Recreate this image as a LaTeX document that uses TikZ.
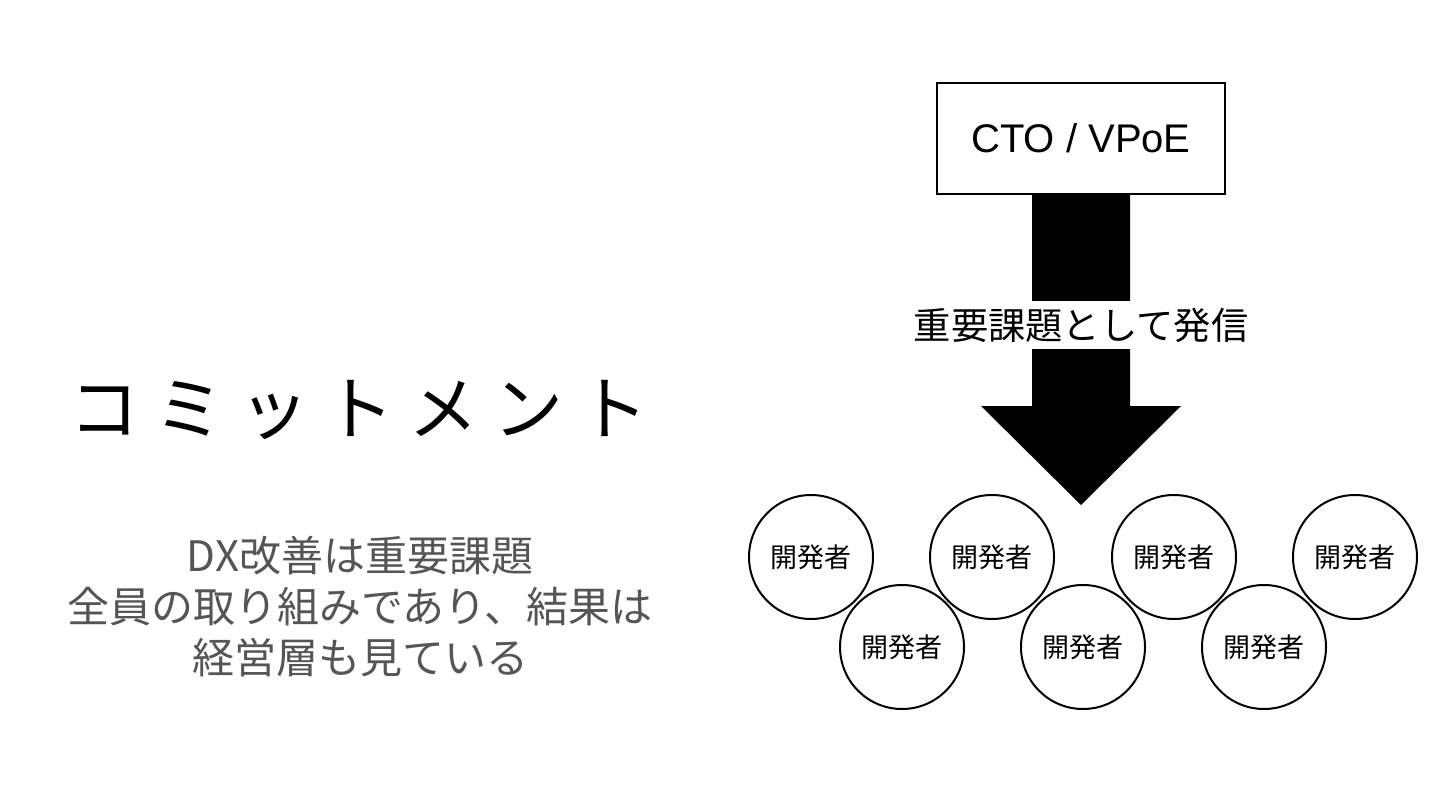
\documentclass[tikz,border=0pt]{standalone}
\usepackage{fontspec}
\setmainfont{Noto Sans CJK JP}
\newfontfamily\cjkfont{Noto Sans CJK JP}
\newfontfamily\latinfont{Liberation Sans}
\usetikzlibrary{calc}
\definecolor{subgray}{RGB}{85,85,85}

\begin{document}
\begin{tikzpicture}[x=1pt, y=-1pt,
	devnode/.style={circle, draw, line width=2pt, minimum size=124pt, inner sep=0pt, font=\cjkfont\fontsize{27pt}{32pt}\selectfont},
	rolebox/.style={draw, line width=2pt, minimum width=288pt, minimum height=111pt, font=\latinfont\fontsize{40pt}{46pt}\selectfont}]
	\useasboundingbox (0,0) rectangle (1440,810);
	\fill[white] (0,0) rectangle (1440,810);
	\node[font=\cjkfont\fontsize{70pt}{78pt}\selectfont\addfontfeature{LetterSpace=21}] (title) at (359,410) {コミットメント};
	\node[subgray, align=center, font=\cjkfont\fontsize{42pt}{51pt}\selectfont] (sub) at (360,607) {DX改善は重要課題\\全員の取り組みであり、結果は\\経営層も見ている};
	\node[rolebox] (cto) at (1081,138.5) {CTO / VPoE};
	\coordinate (tip) at (1081,505);
	\fill ($(cto.south)+(-49,0)$) -- ($(cto.south)+(49,0)$) -- ($(tip)+(49,-99)$) -- ($(tip)+(100,-99)$) -- (tip) -- ($(tip)+(-100,-99)$) -- ($(tip)+(-49,-99)$) -- cycle;
	\node[fill=white, inner xsep=2pt, minimum height=47pt, font=\cjkfont\fontsize{37.3pt}{44pt}\selectfont] (msg) at (1081,325) {重要課題として発信};
	\foreach \n/\x/\y in {1/811/557, 2/992/557, 3/1174/557, 4/1355/557, 5/902/647, 6/1083/647, 7/1264/647} {\node[devnode] (dev\n) at (\x,\y) {開発者};}
\end{tikzpicture}
\end{document}
